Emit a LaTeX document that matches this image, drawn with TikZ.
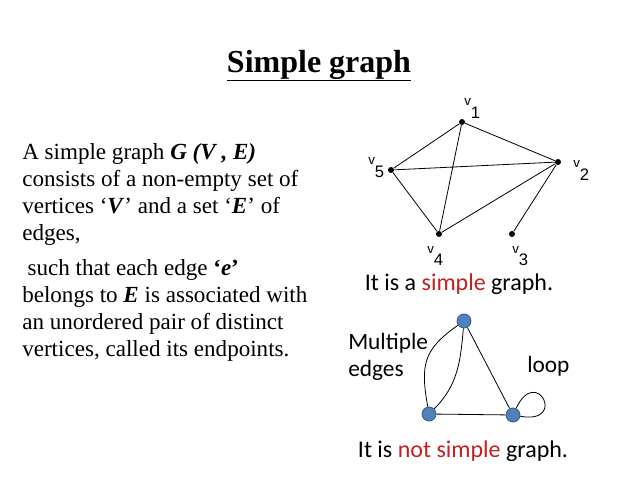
\documentclass[tikz,border=0pt]{standalone}
\usepackage{fontspec}
\setmainfont{Liberation Serif}
\newfontfamily\calibri{Carlito}
\newfontfamily\arialfont{Liberation Sans}
\usetikzlibrary{positioning}
\definecolor{nodeblue}{HTML}{4F81BD}
\definecolor{nodeline}{HTML}{385D8A}
\definecolor{capred}{RGB}{200,30,30}
\newcommand\vlab[1]{{\fontsize{10}{10}\selectfont v}\raisebox{-9.5pt}{\fontsize{12.5}{12.5}\selectfont #1}}

\begin{document}
\begin{tikzpicture}[x=0.75pt,y=0.75pt,
	dot/.style={circle, fill=black, inner sep=0pt, minimum size=4.5pt},
	vert/.style={circle, fill=nodeblue, draw=nodeline, line width=0.6pt, inner sep=0pt, minimum size=10.5pt},
	lab/.style={font=\arialfont, inner sep=0pt, anchor=base west},
	capt/.style={font=\calibri\fontsize{18}{21}\selectfont, inner sep=0pt}]
	\useasboundingbox (0,0) rectangle (638,479);
	\node[font=\bfseries\fontsize{24}{28}\selectfont, anchor=base, inner sep=0pt] (title) at (319,406) {Simple graph};
	\draw[line width=1pt] ([yshift=-5.5pt]title.base west) -- ([yshift=-5.5pt]title.base east);
	\node[anchor=north west, align=left, inner sep=0pt, font=\fontsize{17.3}{20.25}\selectfont] (def) at (22,336)
		{A simple graph \textbf{\textit{G (V , E)}}\\
		consists of a non-empty set of\\
		vertices `\textbf{\textit{V}}' and a set `\textbf{\textit{E}}' of\\
		edges,\\[6pt]
		\hspace{4pt}such that each edge \textbf{`\textit{e}'}\\
		belongs to \textbf{\textit{E}} is associated with\\
		an unordered pair of distinct\\
		vertices, called its endpoints.};
	% simple graph
	\node[dot] (v1) at (462,357) {};
	\node[dot] (v2) at (558,317) {};
	\node[dot] (v3) at (512,245) {};
	\node[dot] (v4) at (439,245) {};
	\node[dot] (v5) at (391,309) {};
	\node[lab] (l1) at (464,373) {\vlab{1}};
	\node[lab] (l2) at (573,311) {\vlab{2}};
	\node[lab] (l3) at (512,226) {\vlab{3}};
	\node[lab] (l4) at (427,226) {\vlab{4}};
	\node[lab] (l5) at (368,314) {\vlab{5}};
	\draw[line width=0.6pt] (v1) -- (v2) (v1) -- (v5) (v1) -- (v4) (v5) -- (v2)
		(v5) -- (v4) (v4) -- (v2) (v2) -- (v3);
	\node[capt, anchor=base] (cap1) at (459,189) {It is a \textcolor{capred}{simple} graph.};
	% not simple graph
	\node[vert] (a) at (464,158) {};
	\node[vert] (b) at (429,65) {};
	\node[vert] (c) at (513,64) {};
	\draw[line width=0.6pt]
		(a) edge[out=215, in=100, looseness=1.25] (b)
		(a) edge[out=-95, in=45] (b)
		(a) edge (c)
		(b) edge (c)
		(c) edge[loop, out=65, in=-10, min distance=36pt] (c);
	\node[capt, anchor=north west, align=left, font=\calibri\fontsize{17.5}{20.5}\selectfont] (multi) at (348,146) {Multiple\\edges};
	\node[capt, anchor=base west, font=\calibri\fontsize{17.5}{20.5}\selectfont] (loop) at (527,107) {loop};
	\node[capt, anchor=base] (cap2) at (463,22) {It is \textcolor{capred}{not simple} graph.};
\end{tikzpicture}
\end{document}
